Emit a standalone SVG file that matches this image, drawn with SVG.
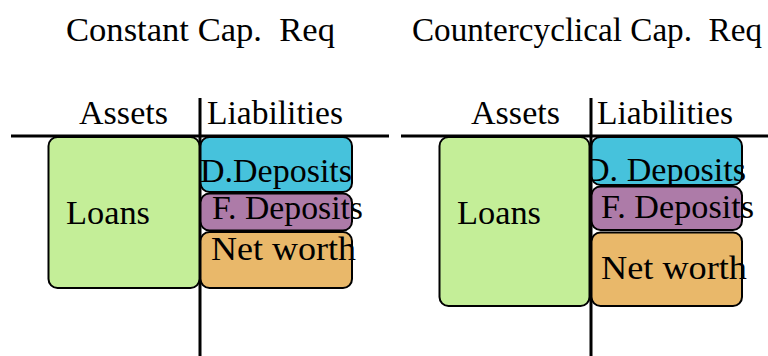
<svg xmlns="http://www.w3.org/2000/svg" width="768" height="356" viewBox="0 0 768 356">
  <style>
    text { font-family: "Liberation Serif", "Times New Roman", serif; font-size: 34px; fill: #000; }
    text.title { font-size: 33px; }
    .axis { stroke: #000; stroke-width: 3; fill: none; }
    .box { stroke: #000; stroke-width: 2; }
    .loans { fill: #c4ee98; }
    .ddep { fill: #46c2dc; }
    .fdep { fill: #ad7ba8; }
    .nw { fill: #e9b86a; }
  </style>

  <!-- panel titles -->
  <text class="title" x="66" y="41" xml:space="preserve" textLength="269" lengthAdjust="spacingAndGlyphs">Constant Cap.  Req</text>
  <text class="title" x="412" y="41" xml:space="preserve" textLength="350" lengthAdjust="spacingAndGlyphs">Countercyclical Cap.  Req</text>

  <!-- T-account axes -->
  <g id="connectors">
    <line class="axis" x1="11" y1="136" x2="389" y2="136"/>
    <line class="axis" x1="200" y1="98" x2="200" y2="356"/>
    <line class="axis" x1="401" y1="136" x2="768" y2="136"/>
    <line class="axis" x1="591" y1="98" x2="591" y2="356"/>
  </g>

  <!-- column headings -->
  <text x="79" y="124" textLength="89" lengthAdjust="spacingAndGlyphs">Assets</text>
  <text x="207" y="124" textLength="136" lengthAdjust="spacingAndGlyphs">Liabilities</text>
  <text x="471" y="124" textLength="89" lengthAdjust="spacingAndGlyphs">Assets</text>
  <text x="597" y="124" textLength="136" lengthAdjust="spacingAndGlyphs">Liabilities</text>

  <!-- constant requirement balance sheet -->
  <g id="loans-constant">
    <rect class="box loans" x="48.5" y="137" width="151" height="151" rx="9"/>
    <text x="66" y="224" textLength="84" lengthAdjust="spacingAndGlyphs">Loans</text>
  </g>
  <g id="ddeposits-constant">
    <rect class="box ddep" x="200.5" y="137" width="151.5" height="55" rx="9"/>
    <text x="200" y="182" textLength="152" lengthAdjust="spacingAndGlyphs">D.Deposits</text>
  </g>
  <g id="fdeposits-constant">
    <rect class="box fdep" x="200.5" y="193.5" width="151.5" height="37" rx="9"/>
    <text x="212" y="219" textLength="151" lengthAdjust="spacingAndGlyphs">F. Deposits</text>
  </g>
  <g id="networth-constant">
    <rect class="box nw" x="200.5" y="232" width="151.5" height="56" rx="9"/>
    <text x="211" y="260" textLength="145" lengthAdjust="spacingAndGlyphs">Net worth</text>
  </g>

  <!-- countercyclical requirement balance sheet -->
  <g id="ddeposits-countercyclical">
    <rect class="box ddep" x="591.5" y="137" width="150.5" height="48" rx="9"/>
    <text x="585" y="181" textLength="161" lengthAdjust="spacingAndGlyphs">D. Deposits</text>
  </g>
  <g id="loans-countercyclical">
    <rect class="box loans" x="439.5" y="137" width="150" height="169" rx="9"/>
    <text x="457" y="224" textLength="84" lengthAdjust="spacingAndGlyphs">Loans</text>
  </g>
  <g id="fdeposits-countercyclical">
    <rect class="box fdep" x="591.5" y="186.5" width="150.5" height="43.5" rx="9"/>
    <text x="601" y="218" textLength="153" lengthAdjust="spacingAndGlyphs">F. Deposits</text>
  </g>
  <g id="networth-countercyclical">
    <rect class="box nw" x="591.5" y="232.5" width="150.5" height="73.5" rx="9"/>
    <text x="601" y="279" textLength="146" lengthAdjust="spacingAndGlyphs">Net worth</text>
  </g>
</svg>
